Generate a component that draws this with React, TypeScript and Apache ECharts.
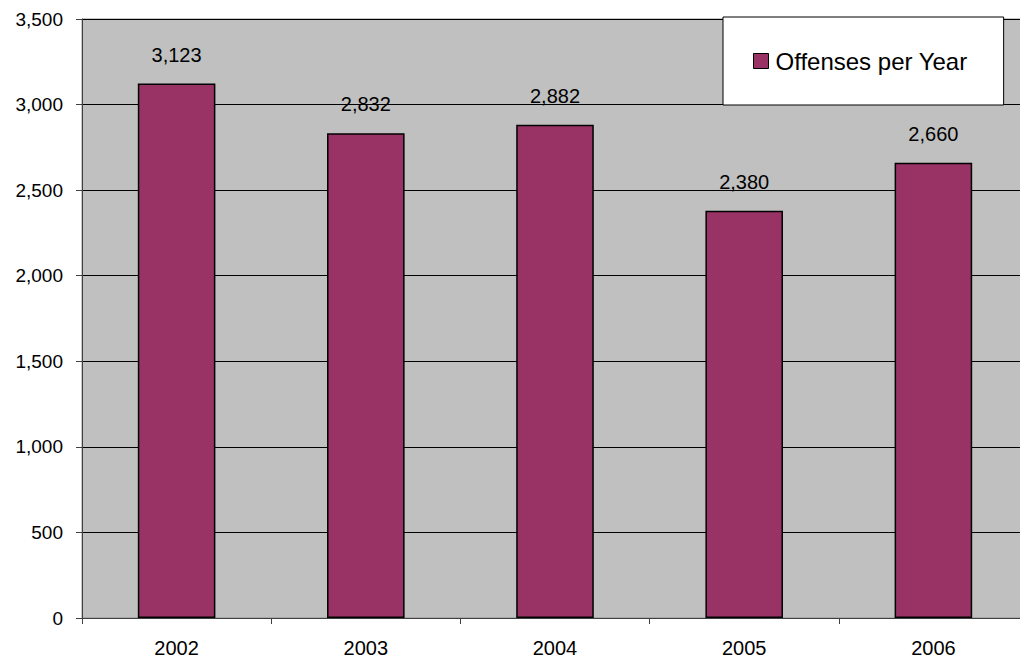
import React, { useEffect, useRef } from "react";
import * as echarts from "echarts";

const categories = ["2002", "2003", "2004", "2005", "2006"];
const offenses = [3123, 2832, 2882, 2380, 2660];
const seriesName = "Offenses per Year";

export default function App() {
  const ref = useRef<HTMLDivElement>(null);
  useEffect(() => {
    if (!ref.current) return;
    const chart = echarts.init(ref.current, null, { renderer: "svg" });
    const font = "Liberation Sans, Arial, sans-serif";
    chart.setOption({
      animation: false,
      backgroundColor: "#ffffff",
      textStyle: { fontFamily: font },
      grid: {
        left: 82,
        top: 19,
        width: 946,
        height: 599,
        show: true,
        backgroundColor: "#C0C0C0",
        borderColor: "#909090",
        borderWidth: 1,
      },
      legend: {
        left: 723,
        top: 17,
        orient: "horizontal",
        backgroundColor: "#ffffff",
        borderColor: "#000000",
        borderWidth: 1,
        padding: [32, 36, 32, 30],
        itemWidth: 15,
        itemHeight: 15,
        itemGap: 0,
        textStyle: { fontSize: 24, color: "#000", fontFamily: font, padding: [0, 0, 0, 2] },
        data: [{ name: seriesName, icon: "rect", itemStyle: { borderColor: "#000", borderWidth: 1 } }],
      },
      xAxis: {
        type: "category",
        data: categories,
        axisLine: { show: true, lineStyle: { color: "#404040", width: 1 } },
        axisTick: { show: true, length: 6, alignWithLabel: false, lineStyle: { color: "#404040" } },
        axisLabel: { color: "#000", fontSize: 20, margin: 20, fontFamily: font },
        splitLine: { show: false },
      },
      yAxis: {
        type: "value",
        min: 0,
        max: 3500,
        interval: 500,
        axisLine: { show: true, lineStyle: { color: "#404040", width: 1 } },
        axisTick: { show: true, length: 6, lineStyle: { color: "#404040" } },
        axisLabel: {
          color: "#000",
          fontSize: 19,
          margin: 19,
          fontFamily: font,
          formatter: (v: number) => v.toLocaleString("en-US"),
        },
        splitLine: { show: true, lineStyle: { color: "#000", width: 1 } },
      },
      series: [
        {
          name: seriesName,
          type: "bar",
          data: offenses,
          barCategoryGap: "59%",
          itemStyle: { color: "#993366", borderColor: "#000", borderWidth: 1.5 },
          label: {
            show: true,
            position: "top",
            distance: 19,
            color: "#000",
            fontSize: 20,
            fontFamily: font,
            formatter: (p: any) => Number(p.value).toLocaleString("en-US"),
          },
        },
      ],
    });
    return () => chart.dispose();
  }, []);
  return (
    <div style={{ position: "absolute", left: 0, top: 0, width: 1020, height: 663, overflow: "hidden" }}>
      <div ref={ref} style={{ position: "absolute", left: 0, top: 0, width: 1040, height: 663 }} />
    </div>
  );
}
